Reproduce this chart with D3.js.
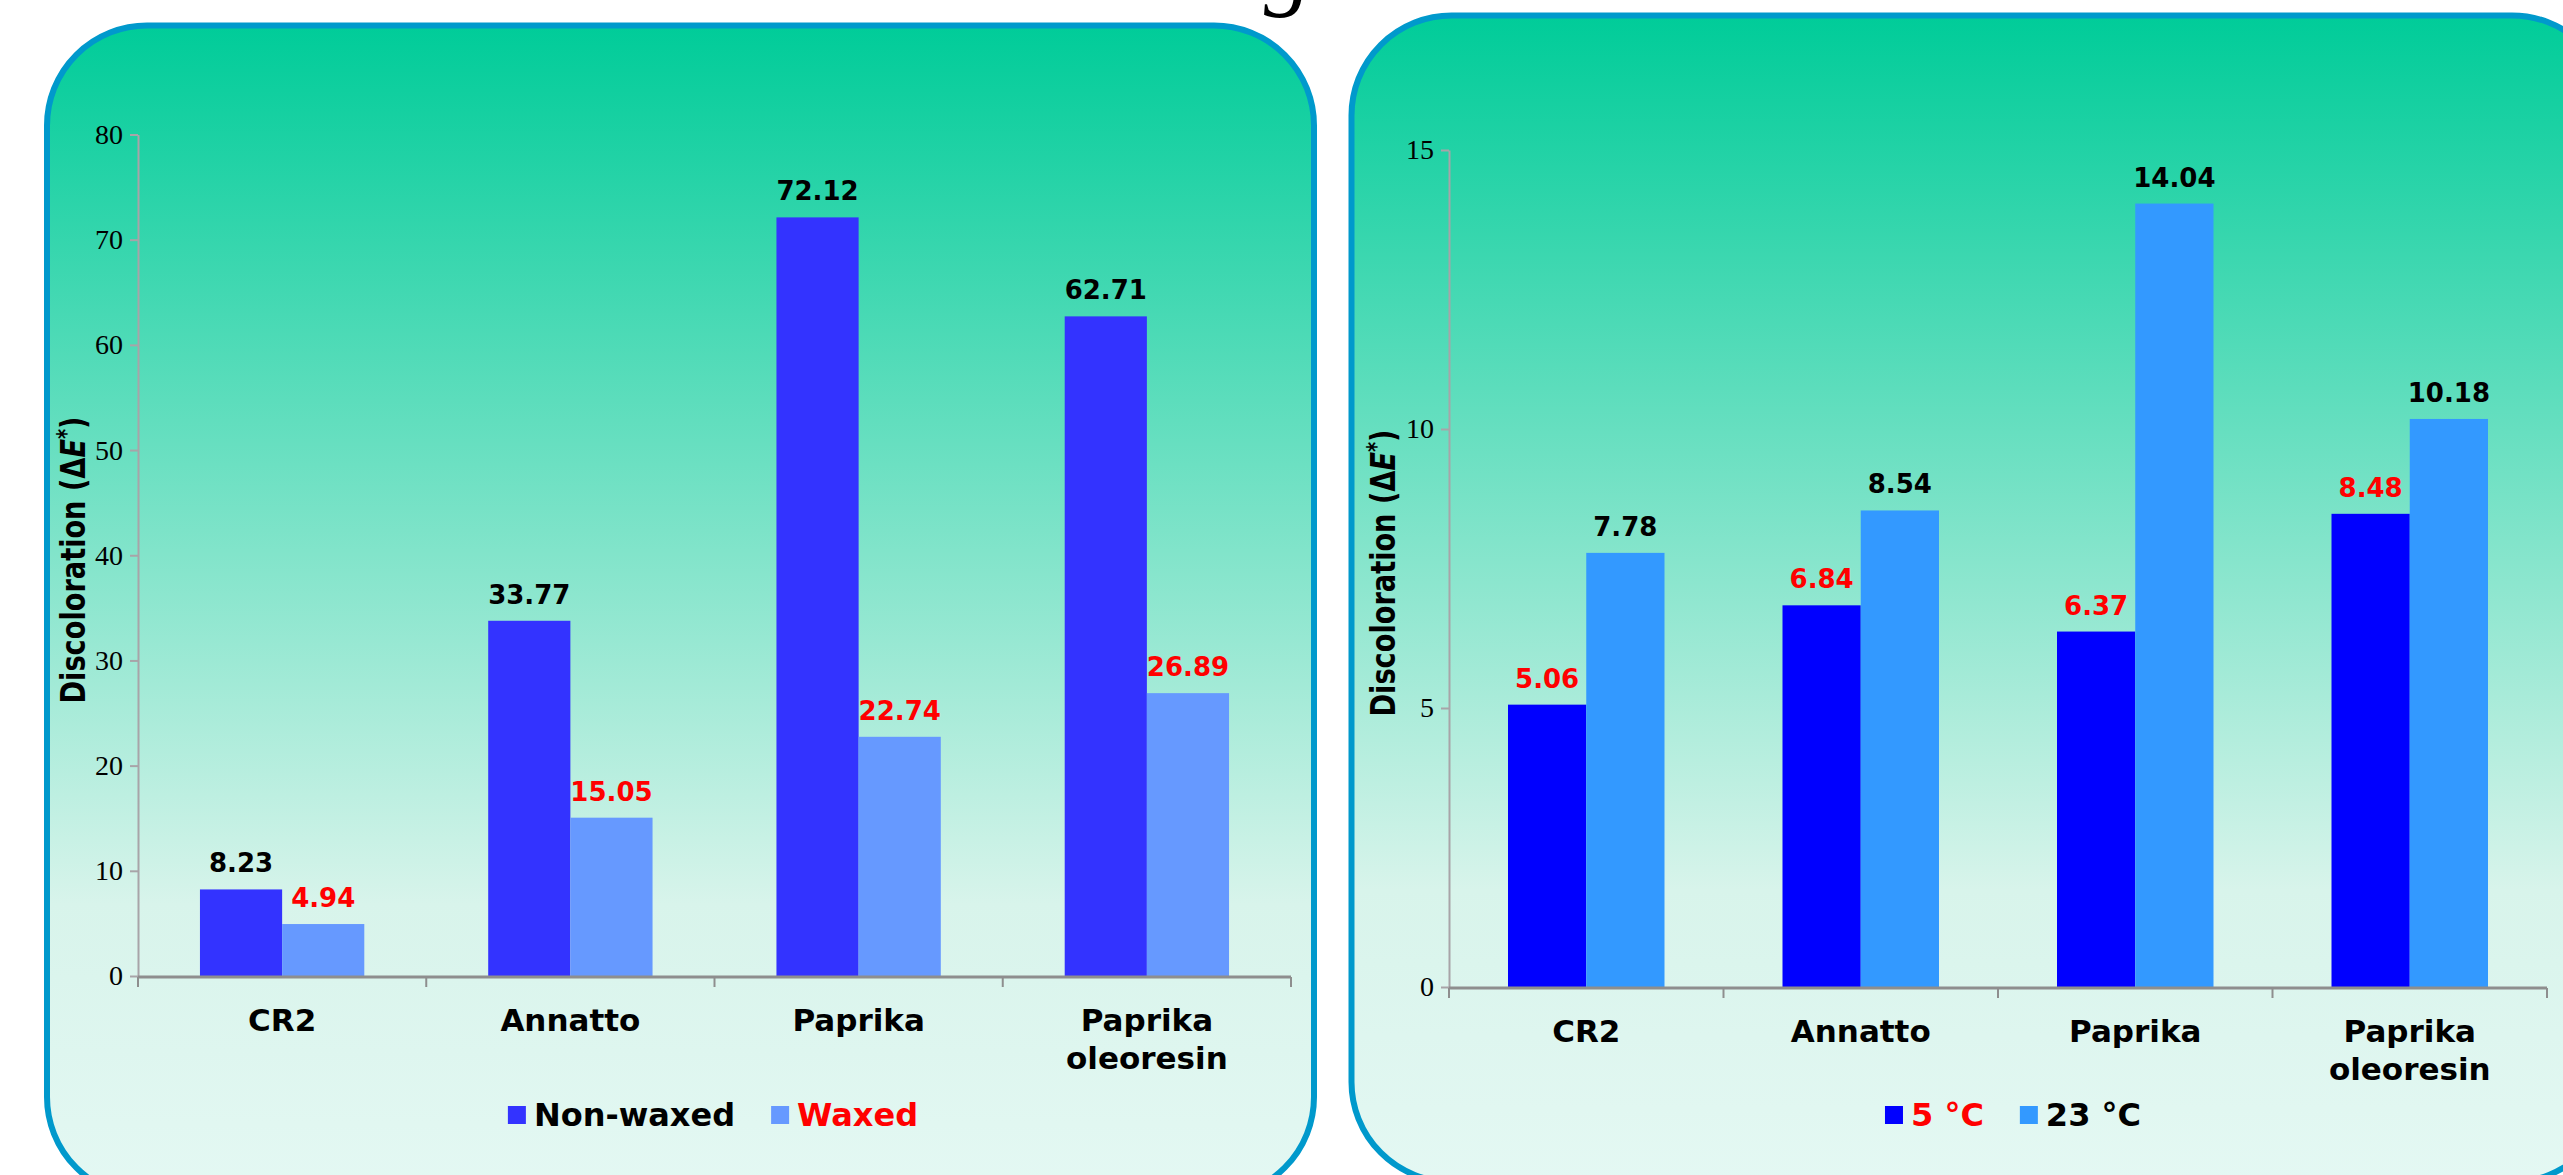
<!DOCTYPE html>
<html>
<head>
<meta charset="utf-8">
<script src="https://cdn.jsdelivr.net/npm/d3@7"></script>
<style>
  html, body { margin: 0; padding: 0; background: #ffffff; overflow: hidden; }
  svg { display: block; }
</style>
</head>
<body>
<svg id="chart" width="2563" height="1175"></svg>
<script>
// Categories shared by both panels
const categories = ["CR2", "Annatto", "Paprika", "Paprika oleoresin"];

// Panel A: waxing treatment
const waxSeries = ["Non-waxed", "Waxed"];
const nonWaxed = [8.23, 33.77, 72.12, 62.71];
const waxed = [4.94, 15.05, 22.74, 26.89];
const waxTicks = [0, 10, 20, 30, 40, 50, 60, 70, 80];

// Panel B: storage temperature
const tempSeries = ["5 °C", "23 °C"];
const temp5 = [5.06, 6.84, 6.37, 8.48];
const temp23 = [7.78, 8.54, 14.04, 10.18];
const tempTicks = [0, 5, 10, 15];

const svg = d3.select("#chart");

const SANS = "'DejaVu Sans', Verdana, sans-serif";
const SERIF = "'Liberation Serif', 'Times New Roman', serif";

// background gradient for the rounded panels
const defs = svg.append("defs");
const grad = defs.append("linearGradient")
  .attr("id", "panelFill").attr("x1", 0).attr("y1", 0).attr("x2", 0).attr("y2", 1);
grad.append("stop").attr("offset", 0).attr("stop-color", "#00CC99");
grad.append("stop").attr("offset", 0.75).attr("stop-color", "#D8F4EB");
grad.append("stop").attr("offset", 1).attr("stop-color", "#E4F8F3");

// tail of the slide heading, mostly above the top edge
svg.append("text")
  .attr("x", 1288).attr("y", -2)
  .attr("text-anchor", "middle")
  .attr("font-family", SERIF).attr("font-style", "italic")
  .attr("font-size", 96).attr("fill", "#000")
  .text("g");

function drawPanel(opt) {
  const g = svg.append("g");

  g.append("rect")
    .attr("x", opt.frame[0]).attr("y", opt.frame[1])
    .attr("width", opt.frame[2] - opt.frame[0])
    .attr("height", opt.frame[3] - opt.frame[1])
    .attr("rx", 100).attr("ry", 100)
    .attr("fill", "url(#panelFill)")
    .attr("stroke", "#0099CC").attr("stroke-width", 6);

  const x = d3.scaleBand().domain(categories).range([opt.x0, opt.x1]);
  const xs = d3.scaleBand().domain(opt.series).range([0, x.bandwidth()]).paddingOuter(0.754);
  const y = d3.scaleLinear().domain([0, opt.max]).range([opt.yBase, opt.yTop]);

  // bars
  opt.series.forEach((s, si) => {
    const vals = opt.values[si];
    g.append("g").selectAll("rect")
      .data(categories.map((c, i) => ({ c, v: vals[i] })))
      .join("rect")
      .attr("x", d => x(d.c) + xs(s))
      .attr("y", d => y(d.v))
      .attr("width", xs.bandwidth())
      .attr("height", d => y(0) - y(d.v))
      .attr("fill", opt.colors[si]);

    g.append("g").selectAll("text")
      .data(categories.map((c, i) => ({ c, v: vals[i] })))
      .join("text")
      .attr("x", d => x(d.c) + xs(s) + xs.bandwidth() / 2)
      .attr("y", d => y(d.v) - 17)
      .attr("text-anchor", "middle")
      .attr("font-family", SANS).attr("font-weight", "bold")
      .attr("font-size", 26)
      .attr("fill", opt.labelColors[si])
      .text(d => d.v.toFixed(2));
  });

  // y axis
  const ya = g.append("g")
    .attr("transform", `translate(${opt.x0},0)`)
    .call(d3.axisLeft(y).tickValues(opt.ticks).tickSize(8).tickPadding(7).tickSizeOuter(0));
  ya.select(".domain").attr("stroke", "#A8A4A8").attr("stroke-width", 2);
  ya.selectAll(".tick line").attr("stroke", "#A8A4A8").attr("stroke-width", 2);
  ya.selectAll(".tick text")
    .attr("font-family", SERIF).attr("font-size", 28).attr("fill", "#000");

  // x axis with boundary ticks between categories
  const xa = g.append("g");
  xa.append("line")
    .attr("x1", opt.x0).attr("x2", opt.x1)
    .attr("y1", y(0) + 1).attr("y2", y(0) + 1)
    .attr("stroke", "#8E8E8E").attr("stroke-width", 3);
  const bounds = categories.map(c => x(c)).concat([x.range()[1]]);
  xa.selectAll("line.tk").data(bounds).join("line")
    .attr("class", "tk")
    .attr("x1", d => d).attr("x2", d => d)
    .attr("y1", y(0) + 1).attr("y2", y(0) + 11)
    .attr("stroke", "#8E8E8E").attr("stroke-width", 2);

  // category labels (wrap on spaces)
  const cl = g.append("g").selectAll("text").data(categories).join("text")
    .attr("x", d => x(d) + x.bandwidth() / 2)
    .attr("y", y(0) + 55)
    .attr("text-anchor", "middle")
    .attr("font-family", SANS).attr("font-weight", "bold")
    .attr("font-size", 31).attr("fill", "#000");
  cl.selectAll("tspan").data(d => d.split(" ")).join("tspan")
    .attr("x", function () { return d3.select(this.parentNode).attr("x"); })
    .attr("dy", (d, i) => i === 0 ? 0 : 38)
    .text(d => d);

  // y axis title
  const title = g.append("text")
    .attr("transform", `translate(${opt.titleX},${opt.titleY}) rotate(-90) scale(0.8,1)`)
    .attr("text-anchor", "middle")
    .attr("font-family", SANS).attr("font-weight", "bold")
    .attr("font-size", 34).attr("fill", "#000");
  title.append("tspan").text("Discoloration (Δ");
  title.append("tspan").attr("font-style", "italic").text("E");
  title.append("tspan").attr("font-size", 24).attr("dy", -11).text("*");
  title.append("tspan").attr("dy", 11).text(")");

  // legend
  const lg = g.append("g");
  let cx = 0;
  opt.series.forEach((s, si) => {
    lg.append("rect")
      .attr("x", cx).attr("y", -20).attr("width", 18).attr("height", 18)
      .attr("fill", opt.colors[si]);
    const t = lg.append("text")
      .attr("x", cx + 26).attr("y", 0)
      .attr("font-family", SANS).attr("font-weight", "bold")
      .attr("font-size", 32).attr("fill", opt.legendColors[si])
      .text(s);
    cx += 26 + t.node().getComputedTextLength() + 36;
  });
  const lw = cx - 36;
  lg.attr("transform", `translate(${opt.legendCx - lw / 2},${opt.legendY})`);
}

drawPanel({
  frame: [47, 25.5, 1314, 1197],
  x0: 138, x1: 1291, yBase: 976, yTop: 134.5, max: 80,
  ticks: waxTicks,
  series: waxSeries,
  values: [nonWaxed, waxed],
  colors: ["#3333FF", "#6699FF"],
  labelColors: ["#000000", "#FF0000"],
  legendColors: ["#000000", "#FF0000"],
  titleX: 85, titleY: 560,
  legendCx: 713, legendY: 1126
});

drawPanel({
  frame: [1351.5, 15.5, 2612, 1182],
  x0: 1449, x1: 2547, yBase: 987, yTop: 150, max: 15,
  ticks: tempTicks,
  series: tempSeries,
  values: [temp5, temp23],
  colors: ["#0000FF", "#3399FF"],
  labelColors: ["#FF0000", "#000000"],
  legendColors: ["#FF0000", "#000000"],
  titleX: 1395, titleY: 573,
  legendCx: 2013, legendY: 1126
});
</script>
</body>
</html>
